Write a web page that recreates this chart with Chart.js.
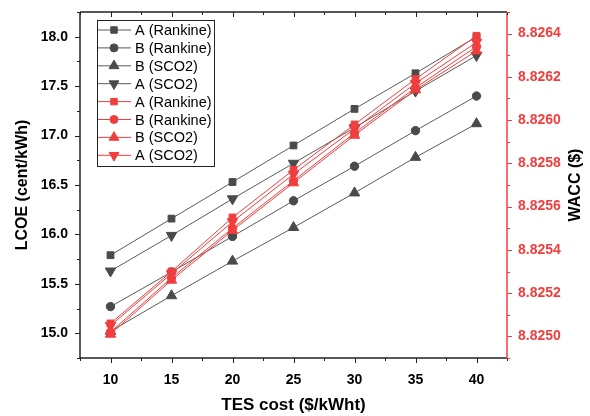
<!DOCTYPE html>
<html><head><meta charset="utf-8">
<script src="https://cdn.jsdelivr.net/npm/chart.js@4.4.1/dist/chart.umd.min.js"></script>
<style>html,body{margin:0;padding:0;background:#fff}#wrap{width:590px;height:416px}</style>
</head><body><div id="wrap"><canvas id="c" width="590" height="416"></canvas></div>
<script>
const tesCost = [10, 15, 20, 25, 30, 35, 40];
const seriesNames = ['A (Rankine)', 'B (Rankine)', 'B (SCO2)', 'A (SCO2)'];
// LCOE (left axis)
const lcoeARankine = [15.79, 16.16, 16.53, 16.90, 17.27, 17.63, 18.00];
const lcoeBRankine = [15.27, 15.62, 15.98, 16.34, 16.69, 17.05, 17.40];
const lcoeBSCO2    = [15.02, 15.38, 15.73, 16.07, 16.42, 16.78, 17.12];
const lcoeASCO2    = [15.63, 15.99, 16.36, 16.72, 17.08, 17.45, 17.81];
// WACC (right axis)
const waccARankine = [8.82506, 8.82530, 8.82555, 8.82577, 8.82598, 8.82619, 8.82639];
const waccBRankine = [8.82502, 8.82527, 8.82550, 8.82572, 8.82594, 8.82615, 8.82634];
const waccBSCO2    = [8.82501, 8.82526, 8.82549, 8.82571, 8.82593, 8.82614, 8.82632];
const waccASCO2    = [8.82505, 8.82529, 8.82553, 8.82575, 8.82596, 8.82617, 8.82636];

const GRAY_LINE = '#5a5a5a', GRAY_PT = '#4a4a4a', RED = 'rgb(240,62,62)';
const FONT = '"Liberation Sans", Arial, sans-serif';

const markers = [
  {pointStyle: 'rect', radius: 4.8, rotation: 0},
  {pointStyle: 'circle', radius: 4.2, rotation: 0},
  {pointStyle: 'triangle', radius: 6, rotation: 0},
  {pointStyle: 'triangle', radius: 6, rotation: 180}
];
const toPts = arr => arr.map((v, i) => ({x: tesCost[i], y: v}));

function mk(label, data, axis, idx, red) {
  const m = markers[idx];
  return {
    label, data: toPts(data), yAxisID: axis,
    borderColor: red ? RED : GRAY_LINE, borderWidth: 1,
    pointBackgroundColor: red ? RED : GRAY_PT, pointBorderColor: red ? RED : GRAY_PT,
    pointBorderWidth: 1, pointStyle: m.pointStyle, pointRadius: m.radius, pointRotation: m.rotation,
    pointHoverRadius: m.radius, tension: 0, order: red ? 0 : 1, _m: m
  };
}

const datasets = [
  mk(seriesNames[0], lcoeARankine, 'y', 0, false),
  mk(seriesNames[1], lcoeBRankine, 'y', 1, false),
  mk(seriesNames[2], lcoeBSCO2, 'y', 2, false),
  mk(seriesNames[3], lcoeASCO2, 'y', 3, false),
  mk(seriesNames[0], waccARankine, 'y2', 0, true),
  mk(seriesNames[1], waccBRankine, 'y2', 1, true),
  mk(seriesNames[2], waccBSCO2, 'y2', 2, true),
  mk(seriesNames[3], waccASCO2, 'y2', 3, true)
];

const decor = {
  id: 'decor',
  afterDraw(chart) {
    const ctx = chart.ctx, a = chart.chartArea;
    const x = chart.scales.x, y = chart.scales.y, y2 = chart.scales.y2;
    ctx.save();
    ctx.lineWidth = 1.5; ctx.strokeStyle = '#222';
    ctx.beginPath();
    ctx.moveTo(a.left, a.top); ctx.lineTo(a.left, a.bottom);
    ctx.moveTo(a.left, a.bottom); ctx.lineTo(a.right, a.bottom);
    ctx.moveTo(a.left, a.top); ctx.lineTo(a.right, a.top);
    ctx.stroke();
    ctx.strokeStyle = RED;
    ctx.beginPath(); ctx.moveTo(a.right, a.top); ctx.lineTo(a.right, a.bottom); ctx.stroke();
    ctx.lineWidth = 1;
    ctx.strokeStyle = '#222';
    ctx.beginPath();
    x.ticks.forEach(t => {
      const px = Math.round(x.getPixelForValue(t.value)) + 0.5;
      const len = Math.abs(t.value % 5) < 1e-6 ? 5 : 3;
      ctx.moveTo(px, a.bottom); ctx.lineTo(px, a.bottom + len);
      ctx.moveTo(px, a.top); ctx.lineTo(px, a.top + len);
    });
    y.ticks.forEach(t => {
      const py = Math.round(y.getPixelForValue(t.value)) + 0.5;
      const len = Math.abs(t.value * 2 - Math.round(t.value * 2)) < 1e-6 ? 5 : 3;
      ctx.moveTo(a.left - len, py); ctx.lineTo(a.left, py);
    });
    ctx.stroke();
    ctx.strokeStyle = RED;
    ctx.beginPath();
    y2.ticks.forEach(t => {
      const py = Math.round(y2.getPixelForValue(t.value)) + 0.5;
      const len = Math.round(t.value * 1e4) % 2 === 0 ? 5 : 3;
      ctx.moveTo(a.right, py); ctx.lineTo(a.right + len, py);
    });
    ctx.stroke();
    ctx.save();
    ctx.translate(576, (a.top + a.bottom) / 2);
    ctx.rotate(-Math.PI / 2);
    ctx.font = 'bold 16px ' + FONT; ctx.fillStyle = '#000';
    ctx.textAlign = 'center'; ctx.textBaseline = 'middle';
    ctx.fillText('WACC ($)', 0, 0);
    ctx.restore();
    const bx = 97, by = 20, bw = 117, bh = 146;
    ctx.fillStyle = '#fff'; ctx.fillRect(bx, by, bw, bh);
    ctx.strokeStyle = '#222'; ctx.lineWidth = 1;
    ctx.strokeRect(bx + 0.5, by + 0.5, bw, bh);
    ctx.font = '14.5px ' + FONT; ctx.textAlign = 'left'; ctx.textBaseline = 'middle';
    chart.data.datasets.forEach((ds, i) => {
      const cy = 30 + i * 17.9;
      ctx.strokeStyle = ds.borderColor; ctx.lineWidth = 1;
      ctx.beginPath(); ctx.moveTo(bx + 1, cy); ctx.lineTo(bx + 34, cy); ctx.stroke();
      ctx.fillStyle = ds.pointBackgroundColor; ctx.strokeStyle = ds.pointBorderColor;
      Chart.helpers.drawPoint(ctx, {pointStyle: ds._m.pointStyle, radius: ds._m.radius * 0.95, rotation: ds._m.rotation, borderWidth: 1}, bx + 17, cy);
      ctx.fillStyle = '#000';
      ctx.fillText(ds.label, 135, cy + 1);
    });
    ctx.restore();
  }
};

new Chart(document.getElementById('c'), {
  type: 'line',
  data: {datasets},
  options: {
    responsive: false, animation: false, devicePixelRatio: 1,
    layout: {padding: {top: 12, left: 0, right: 0, bottom: 0}},
    plugins: {legend: {display: false}, tooltip: {enabled: false}},
    scales: {
      x: {
        type: 'linear', min: 7.5, max: 42.5,
        grid: {display: false, drawTicks: false, tickLength: 0}, border: {display: false},
        ticks: {stepSize: 2.5, autoSkip: false, maxRotation: 0, padding: 14, color: '#000',
          font: {family: FONT, size: 14, weight: 'bold'},
          callback: v => Math.abs(v % 5) < 1e-6 ? String(v) : ''},
        title: {display: true, text: 'TES cost ($/kWht)', color: '#000', padding: {top: 0, bottom: 0},
          font: {family: FONT, size: 17, weight: 'bold'}},
        afterFit: s => { s.height = 58; s.paddingLeft = 0; s.paddingRight = 0; }
      },
      y: {
        position: 'left', min: 14.75, max: 18.25,
        grid: {display: false, drawTicks: false, tickLength: 0}, border: {display: false},
        ticks: {stepSize: 0.25, autoSkip: false, padding: 12, color: '#000',
          font: {family: FONT, size: 14, weight: 'bold'},
          callback: v => Math.abs(v * 2 - Math.round(v * 2)) < 1e-6 ? v.toFixed(1) : ''},
        title: {display: true, text: 'LCOE (cent/kWh)', color: '#000', padding: {top: 13, bottom: 0},
          font: {family: FONT, size: 16, weight: 'bold'}},
        afterFit: s => { s.width = 80; s.paddingTop = 0; s.paddingBottom = 0; }
      },
      y2: {
        position: 'right', min: 8.8249, max: 8.8265,
        grid: {display: false, drawTicks: false, tickLength: 0}, border: {display: false},
        ticks: {stepSize: 0.0001, autoSkip: false, padding: 11, color: RED,
          font: {family: FONT, size: 14, weight: 'bold'},
          callback: v => Math.round(v * 1e4) % 2 === 0 ? v.toFixed(4) : ''},
        afterFit: s => { s.width = 83; s.paddingTop = 0; s.paddingBottom = 0; }
      }
    }
  },
  plugins: [decor]
});
</script>
</body></html>
